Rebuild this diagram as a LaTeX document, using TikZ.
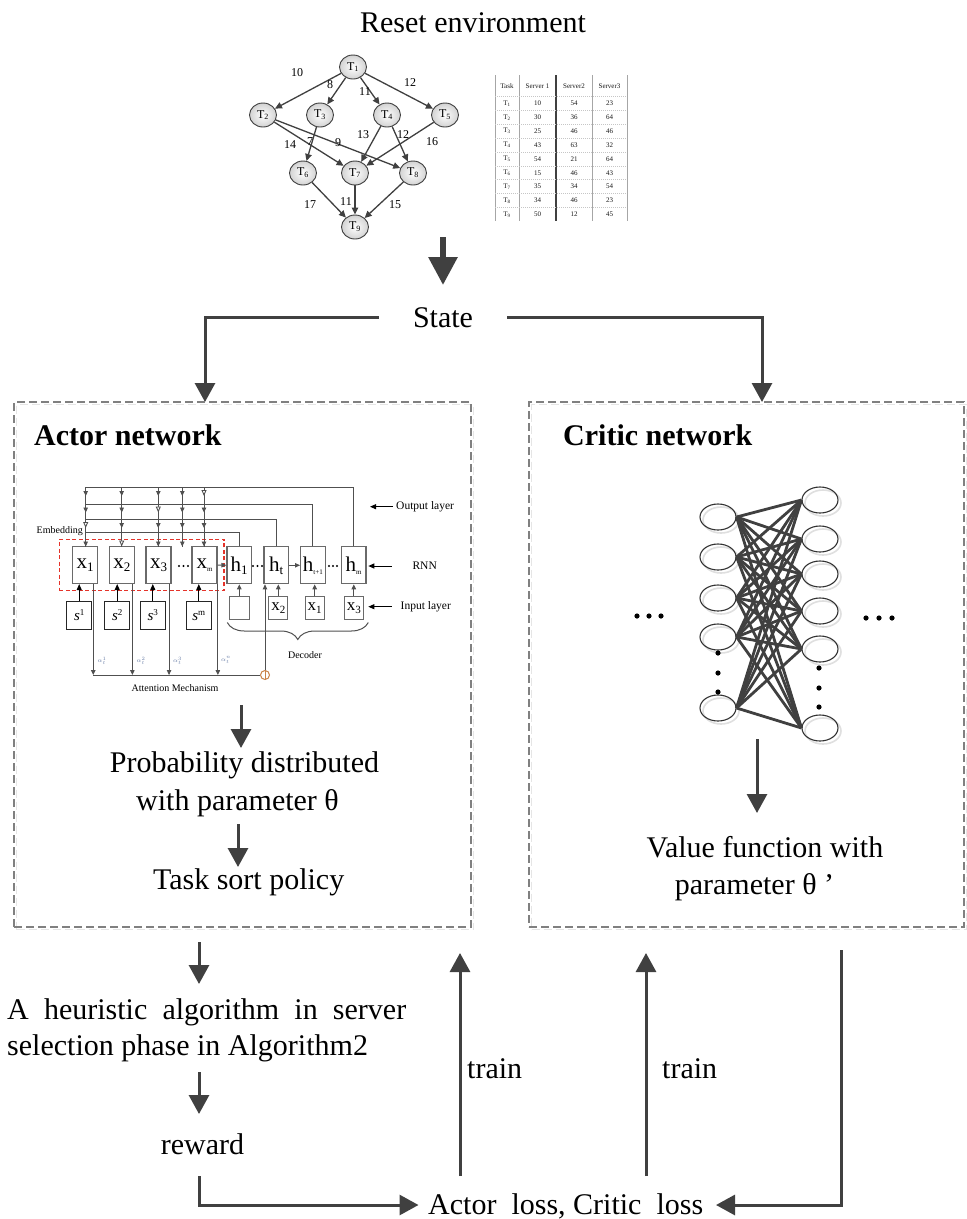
\documentclass[tikz,border=0pt]{standalone}
\usepackage{fontspec}
\setmainfont{Liberation Serif}
\usetikzlibrary{arrows.meta,shapes.geometric,decorations.pathreplacing}
\definecolor{dk}{HTML}{404040}
\definecolor{ln}{HTML}{505050}
\definecolor{bx}{HTML}{6A6A6A}
\definecolor{attcol}{HTML}{C9834A}
\definecolor{alp}{HTML}{6A7FA8}
\definecolor{dashc}{HTML}{808080}
\definecolor{embred}{HTML}{E5332A}
\newcommand\xsub[2]{{\fontsize{21}{21}\selectfont #1}\raisebox{-3pt}{\fontsize{13}{13}\selectfont #2}}
\newcommand\xsubt[2]{{\fontsize{21}{21}\selectfont #1}\raisebox{-3pt}{\fontsize{7}{7}\selectfont #2}}
\newcommand\dsub[2]{{\fontsize{17}{17}\selectfont #1}\raisebox{-2.5pt}{\fontsize{11}{11}\selectfont #2}}
\newcommand\ssup[1]{{\fontsize{15}{15}\selectfont\itshape s}\raisebox{5pt}{\fontsize{9}{9}\selectfont #1}}
\begin{document}
\begin{tikzpicture}[x=1pt,y=-1pt,
  big/.style={font=\fontsize{30}{36}\selectfont, inner sep=0pt},
  bigb/.style={font=\fontsize{30}{36}\selectfont\bfseries, inner sep=0pt},
  arr/.style={draw=dk, line width=3pt, -{Triangle[length=19pt,width=20pt]}},
  dbox/.style={draw=dashc, line width=1.5pt, dash pattern=on 8pt off 4pt, inner sep=0pt},
  dshadow/.style={draw=gray!20, line width=1.5pt, dash pattern=on 8pt off 4pt, inner sep=0pt},
  tn/.style={ellipse, draw=dk, line width=0.9pt, inner color=white, outer color=gray!35, minimum width=27pt, minimum height=24pt, inner sep=0pt, font=\fontsize{12}{12}\selectfont},
  dagedge/.style={draw=dk, line width=1.3pt, -{Triangle[length=7pt,width=6.5pt]}},
  elab/.style={font=\fontsize{12}{12}\selectfont, inner sep=0pt},
  tbl/.style={font=\fontsize{7}{7}\selectfont, text=black!90, inner sep=0pt},
  enc/.style={draw=bx, line width=1.1pt, minimum width=25pt, minimum height=37pt, inner sep=0pt},
  sbx/.style={draw=black!85, line width=1.1pt, minimum width=25pt, minimum height=27.6pt, inner sep=0pt},
  din/.style={draw=bx, line width=1.1pt, minimum height=22.6pt, inner sep=0pt},
  thinl/.style={draw=ln, line width=0.9pt},
  sarr/.style={draw=ln, line width=0.9pt, -{Triangle[length=5pt,width=4.5pt]}},
  harr/.style={draw=ln, line width=0.9pt, -{Triangle[fill=white,length=6pt,width=5pt]}},
  barr/.style={draw=black, line width=1pt, -{Triangle[length=6pt,width=5pt]}},
  small/.style={font=\fontsize{10}{10}\selectfont, inner sep=0pt},
  lab/.style={font=\fontsize{11.5}{11.5}\selectfont, inner sep=0pt},
  alab/.style={font=\fontsize{6.5}{6.5}\selectfont, text=alp, inner sep=0pt},
  neur/.style={ellipse, draw=black!80, line width=1.1pt, minimum width=36pt, minimum height=26pt, inner sep=0pt},
  neursh/.style={ellipse, draw=gray!25, line width=1.6pt, minimum width=36pt, minimum height=26pt, inner sep=0pt},
  conn/.style={draw=dk, line width=2.8pt},
]
\useasboundingbox[fill=white] (0,0) rectangle (967,1219);

% ---------- title ----------
\node[big, anchor=base] (reset) at (473,32) {Reset environment};

% ---------- DAG ----------
\node[tn] (T1) at (353,67) {T\textsubscript{1}};
\node[tn] (T2) at (263,115) {T\textsubscript{2}};
\node[tn] (T3) at (320,115) {T\textsubscript{3}};
\node[tn] (T4) at (387,115) {T\textsubscript{4}};
\node[tn] (T5) at (445,115) {T\textsubscript{5}};
\node[tn] (T6) at (303,173) {T\textsubscript{6}};
\node[tn] (T7) at (355,173) {T\textsubscript{7}};
\node[tn] (T8) at (413,173) {T\textsubscript{8}};
\node[tn] (T9) at (355,227) {T\textsubscript{9}};
\foreach \a/\b in {T1/T2,T1/T3,T1/T4,T1/T5,T2/T7,T2/T8,T3/T6,T4/T7,T4/T8,T5/T7,T6/T9,T7/T9,T8/T9}
  \draw[dagedge] (\a) -- (\b);
\foreach \t/\x/\y [count=\k] in {10/297/73,8/330/85,11/365/92,12/410/83,14/290/145,7/310/142,9/338/143,13/363/135,12/403/135,16/432/142,17/310/205,11/346/202,15/395/205}
  \node[elab] (el\k) at (\x,\y) {\t};

% ---------- table ----------
\foreach \x in {495,519,592,627} \draw[gray!70, line width=0.8pt] (\x,75) -- (\x,221);
\draw[dk, line width=1.1pt] (556,75) -- (556,221);
\foreach \k in {0,...,8} \draw[gray!45, line width=0.6pt, dash pattern=on 1pt off 1pt] (495,{96.6+13.85*\k}) -- (627,{96.6+13.85*\k});
\node[tbl] (th0) at (507,86) {Task};
\node[tbl] (th1) at (537.5,86) {Server 1};
\node[tbl] (th2) at (574,86) {Server2};
\node[tbl] (th3) at (609.5,86) {Server3};
\foreach \a/\b/\c [count=\i] in {10/54/23,30/36/64,25/46/46,43/63/32,54/21/64,15/46/43,35/34/54,34/46/23,50/12/45} {
  \node[tbl] (tr\i-0) at (507,{103.5+13.85*(\i-1)}) {T\textsubscript{\i}};
  \node[tbl] (tr\i-1) at (537.5,{103.5+13.85*(\i-1)}) {\a};
  \node[tbl] (tr\i-2) at (574,{103.5+13.85*(\i-1)}) {\b};
  \node[tbl] (tr\i-3) at (609.5,{103.5+13.85*(\i-1)}) {\c};
}

% ---------- state ----------
\coordinate (bigA) at (443,237);
\coordinate (bigB) at (443,285);
\draw[dk, line width=6pt, -{Triangle[length=28pt,width=28pt]}] (bigA) -- (bigB);
\node[big, anchor=base, inner xsep=34pt] (state) at (443,327) {State};
\coordinate (aIn) at (205,402);
\coordinate (cIn) at (762,402);
\draw[arr] (state.west) -| (aIn);
\draw[arr] (state.east) -| (cIn);

% ---------- dashed boxes ----------
\node[dshadow, minimum width=457pt, minimum height=525pt] (actorsh) at (245,667) {};
\node[dshadow, minimum width=435pt, minimum height=525pt] (criticsh) at (749,667) {};
\node[dbox, minimum width=457pt, minimum height=525pt] (actor) at (242.5,664.5) {};
\node[dbox, minimum width=435pt, minimum height=525pt] (critic) at (746.5,664.5) {};
\node[bigb, anchor=base west] (actT) at (34,445) {Actor network};
\node[bigb, anchor=base west] (criT) at (563,445) {Critic network};

% ---------- actor internals ----------
\node[draw=embred, line width=1.2pt, dash pattern=on 4pt off 2.5pt, minimum width=164.7pt, minimum height=51.4pt, inner sep=0pt] (embbox) at (141.65,565) {};
\node[enc] (x1) at (85.2,565) {\xsub{x}{1}};
\node[enc] (x2) at (121.8,565) {\xsub{x}{2}};
\node[enc] (x3) at (158.5,565) {\xsub{x}{3}};
\node[enc] (xm) at (204.5,565) {\xsubt{x}{m}};
\node[enc, minimum width=24.5pt] (h1) at (239.2,565.3) {\xsub{h}{1}};
\node[enc, minimum width=24.5pt] (ht) at (276.2,565.3) {\xsub{h}{t}};
\node[enc, minimum width=24.5pt] (ht1) at (312.8,565.3) {\xsubt{h}{t+1}};
\node[enc, minimum width=24.5pt] (hm) at (353.7,565.3) {\xsubt{h}{m}};
\node[sbx] (s1) at (79.2,615.5) {\ssup{1}};
\node[sbx] (s2) at (117.2,615.5) {\ssup{2}};
\node[sbx] (s3) at (152.8,615.5) {\ssup{3}};
\node[sbx] (sm) at (198.8,615.5) {\ssup{m}};
\node[din, minimum width=20pt] (d0) at (239.3,608) {};
\node[din, minimum width=19pt] (dx2) at (278.3,608) {\dsub{x}{2}};
\node[din, minimum width=19pt] (dx1) at (314.7,608) {\dsub{x}{1}};
\node[din, minimum width=19pt] (dx3) at (353.8,608) {\dsub{x}{3}};
\foreach \s/\x in {s1/x1,s2/x2,s3/x3,sm/xm} \draw[barr] (\s.north) -- (\s.north |- \x.south);
\foreach \d/\h in {d0/h1,dx2/ht,dx1/ht1,dx3/hm} \draw[sarr] (\d.north) -- (\d.north |- \h.south);
\draw[sarr] (xm) -- (h1);
\draw[sarr] (ht) -- (ht1);
% dots
\foreach \x in {179,183.5,188} \fill[black] (\x,566) circle (1.2pt);
\foreach \x in {253,257.5,262} \fill[black] (\x,566) circle (1.2pt);
\foreach \x in {329,333,337} \fill[black] (\x,566) circle (1.2pt);
% top routing
\draw[thinl] (hm.north) |- (85.7,487.3);
\draw[thinl] (ht1.north) |- (85.7,504);
\draw[thinl] (ht.north) |- (85.7,519.7);
\draw[thinl] (h1.north) |- (85.7,532);
\foreach \x in {85.7,121.7,158.3,182.3,204} \draw[thinl] (\x,487.3) -- (\x,546.7);
\foreach \tip/\hol in {496/5,512.5/3,528/1,546.5/2} {
  \foreach \x [count=\c] in {85.7,121.7,158.3,182.3,204} {
    \ifnum\c=\hol\relax
      \draw[harr] (\x,\tip-8) -- (\x,\tip);
    \else
      \draw[sarr] (\x,\tip-7) -- (\x,\tip);
    \fi
  }
}
\node[small, anchor=east] (emb) at (83,531) {Embedding};
% attention
\node[circle, draw=attcol, line width=1pt, minimum size=9pt, inner sep=0pt] (attc) at (265,675) {};
\draw[attcol, line width=0.9pt] (attc.north) -- (attc.south);
\coordinate (a1) at ([xshift=-5pt]x1.south east);
\coordinate (a2) at ([xshift=-2.5pt]x2.south east);
\coordinate (a3) at ([xshift=-2.5pt]x3.south east);
\coordinate (a4) at ([xshift=0.3pt]xm.south east);
\draw[thinl] (a1 |- attc) -- (attc.west);
\foreach \a in {a1,a2,a3,a4} \draw[sarr] (\a) -- (\a |- attc);
\draw[sarr] (attc.north) -- (attc.north |- ht.south);
\node[alab, anchor=west] (al1) at (97.5,661) {$\alpha_t^1$};
\node[alab, anchor=west] (al2) at (136.5,661) {$\alpha_t^2$};
\node[alab, anchor=west] (al3) at (173,661) {$\alpha_t^3$};
\node[alab, anchor=west] (al4) at (221,660) {$\alpha_t^n$};
\node[small] (attn) at (175,688.5) {Attention Mechanism};
\coordinate (brL) at (227.3,622.5);
\coordinate (brR) at (368.3,622.5);
\draw[ln, line width=1pt, decorate, decoration={brace, mirror, amplitude=17pt}] (brL) -- (brR);
\node[small] (dec) at (305,655) {Decoder};
% right labels
\node[lab, anchor=west] (outl) at (396,506.7) {Output layer};
\coordinate (outS) at (393,506.7); \coordinate (outT) at (370,506.7);
\draw[barr] (outS) -- (outT);
\node[lab] (rnnl) at (424.7,566) {RNN};
\coordinate (rnnS) at (391.7,566); \coordinate (rnnT) at (368.3,566);
\draw[barr] (rnnS) -- (rnnT);
\node[lab] (inl) at (425.8,606.7) {Input layer};
\coordinate (inS) at (391.7,606.7); \coordinate (inT) at (368.3,606.7);
\draw[barr] (inS) -- (inT);

% actor outputs
\coordinate (p0) at (241,705); \coordinate (p1) at (241,748);
\draw[arr] (p0) -- (p1);
\node[big, anchor=base] (prob1) at (244.5,772) {Probability distributed};
\node[big, anchor=base] (prob2) at (237.5,810) {with parameter θ};
\coordinate (q0) at (238,824); \coordinate (q1) at (238,867);
\draw[arr] (q0) -- (q1);
\node[big, anchor=base] (task) at (248.7,889) {Task sort policy};

% ---------- critic internals ----------
\foreach \i/\y in {1/517,2/557,3/598,4/637,5/708} {
  \node[neursh] (LS\i) at (721,\y+3) {};
  \node[neur] (L\i) at (718,\y) {};
}
\foreach \j/\y in {1/500,2/539,3/574,4/611,5/649,6/728} {
  \node[neursh] (RS\j) at (823,\y+3) {};
  \node[neur] (R\j) at (820,\y) {};
}
\foreach \i in {1,...,5} \foreach \j in {1,...,6} \draw[conn] (L\i.east) -- (R\j.west);
\foreach \y in {653,673,692} \fill[black] (718,\y) circle (2.6pt);
\foreach \y in {668,688,707} \fill[black] (819,\y) circle (2.6pt);
\foreach \x in {637,649,661} \fill[black] (\x,616) circle (2.6pt);
\foreach \x in {866,879,892} \fill[black] (\x,618) circle (2.6pt);
\coordinate (c0) at (757,739); \coordinate (c1) at (757,813);
\draw[arr] (c0) -- (c1);
\node[big, anchor=base] (val1) at (765,857) {Value function with};
\node[big, anchor=base] (val2) at (754.5,894) {parameter θ ’};

% ---------- bottom ----------
\coordinate (h0) at (199,942); \coordinate (hh) at (199,984);
\draw[arr] (h0) -- (hh);
\node[big, anchor=base west] (heur1) at (7,1019) {\spaceskip=15.2pt A heuristic algorithm in server};
\node[big, anchor=base west] (heur2) at (7,1055) {selection phase in Algorithm2};
\coordinate (r0) at (199,1072); \coordinate (r1) at (199,1114);
\draw[arr] (r0) -- (r1);
\node[big, anchor=base] (reward) at (202.5,1154.5) {reward};
\node[big, anchor=base west] (loss) at (428,1214) {Actor\ \ loss, Critic\ \ loss};
\coordinate (rwA) at (199,1176);
\coordinate (lossInL) at (418.5,1205);
\draw[arr] (rwA) |- (lossInL);
\coordinate (crA) at (841,950);
\coordinate (lossInR) at (716,1205);
\draw[arr] (crA) |- (lossInR);
\coordinate (t1a) at (460,1176); \coordinate (t1b) at (460,953);
\draw[arr] (t1a) -- (t1b);
\coordinate (t2a) at (646,1176); \coordinate (t2b) at (646,953);
\draw[arr] (t2a) -- (t2b);
\node[big, anchor=base west] (tr1) at (467,1078.5) {train};
\node[big, anchor=base west] (tr2) at (662,1078.5) {train};
\end{tikzpicture}
\end{document}
